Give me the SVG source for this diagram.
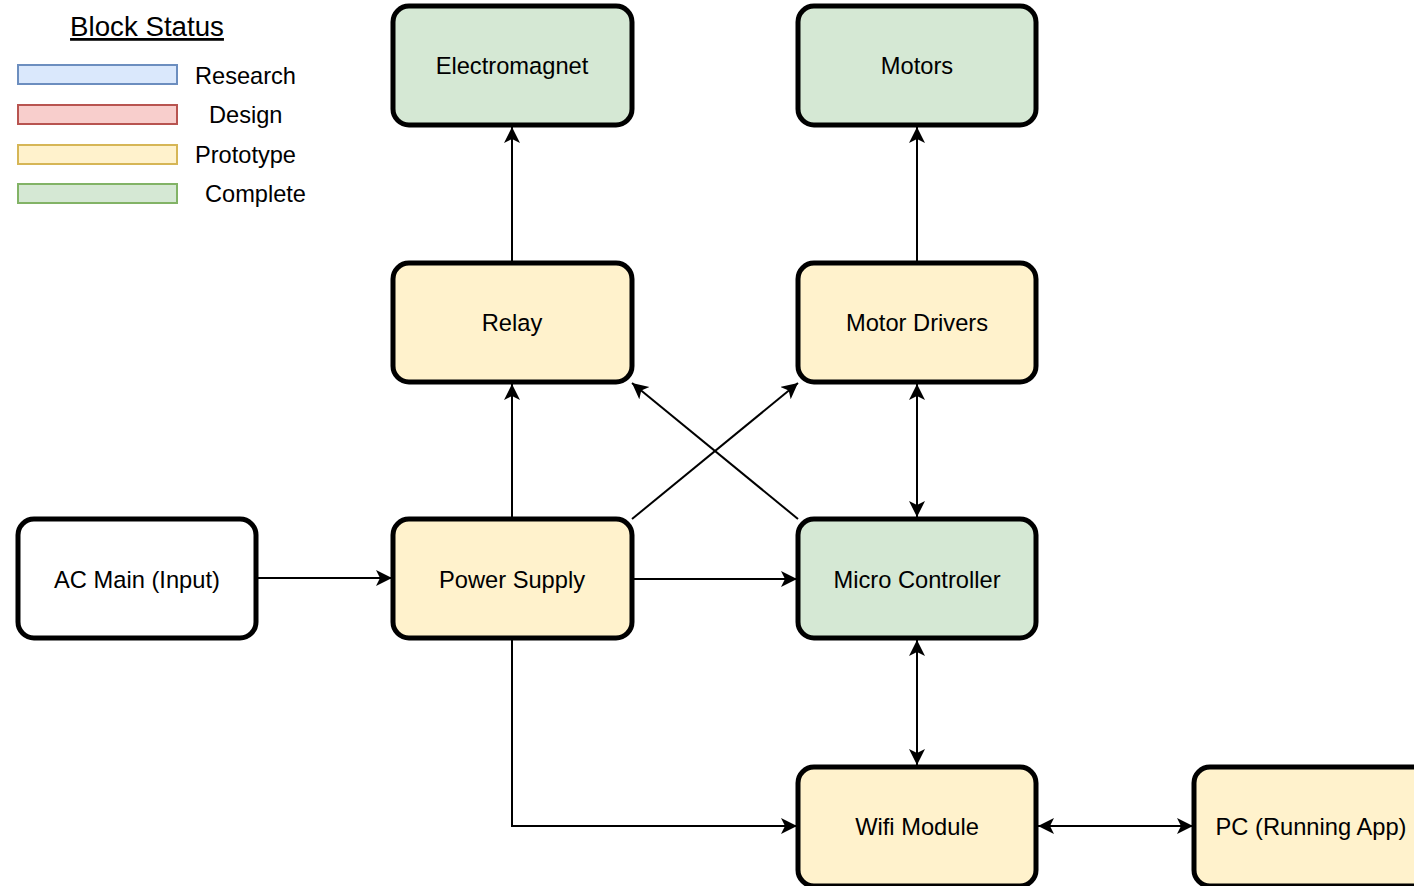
<svg xmlns="http://www.w3.org/2000/svg" width="1414" height="886" viewBox="0 0 1414 886">
<style>
.box{stroke:#000;stroke-width:5}
.y{fill:#fff2cc}
.g{fill:#d5e8d4}
.w{fill:#fff}
.t{font-family:"Liberation Sans",Arial,sans-serif;font-size:23.7px;fill:#000;text-anchor:middle}
.lg{font-family:"Liberation Sans",Arial,sans-serif;font-size:23.6px;fill:#000}
.c{fill:none;stroke:#000;stroke-width:2}
</style>
<defs>
<marker id="ah" markerUnits="strokeWidth" markerWidth="8.5" markerHeight="8.5" refX="16" refY="8" orient="auto-start-reverse" viewBox="0 0 17 17">
<path d="M0,0 L16,8 L0,16 L4,8 Z" fill="#000"/>
</marker>
</defs>
<rect width="1414" height="886" fill="#fff"/>
<g id="legend">
<text x="147" y="36" font-family="Liberation Sans,Arial,sans-serif" font-size="27.7" text-anchor="middle" text-decoration="underline">Block Status</text>
<rect x="18" y="65" width="159" height="19" fill="#dae8fc" stroke="#6c8ebf" stroke-width="2"/>
<rect x="18" y="105" width="159" height="19" fill="#f8cecc" stroke="#b85450" stroke-width="2"/>
<rect x="18" y="145" width="159" height="19" fill="#fff2cc" stroke="#d6b656" stroke-width="2"/>
<rect x="18" y="184" width="159" height="19" fill="#d5e8d4" stroke="#82b366" stroke-width="2"/>
<text class="lg" x="195" y="84">Research</text>
<text class="lg" x="209" y="123">Design</text>
<text class="lg" x="195" y="163">Prototype</text>
<text class="lg" x="205" y="202">Complete</text>
</g>
<g id="connectors">
<line class="c" x1="512" y1="262" x2="512" y2="127" marker-end="url(#ah)"/>
<line class="c" x1="917" y1="262" x2="917" y2="127" marker-end="url(#ah)"/>
<line class="c" x1="512" y1="519" x2="512" y2="384" marker-end="url(#ah)"/>
<line class="c" x1="632" y1="519" x2="798" y2="383" marker-end="url(#ah)"/>
<line class="c" x1="798" y1="519" x2="632" y2="383" marker-end="url(#ah)"/>
<line class="c" x1="917" y1="384" x2="917" y2="517" marker-start="url(#ah)" marker-end="url(#ah)"/>
<line class="c" x1="256" y1="578" x2="392" y2="578" marker-end="url(#ah)"/>
<line class="c" x1="634" y1="579" x2="797" y2="579" marker-end="url(#ah)"/>
<line class="c" x1="917" y1="640" x2="917" y2="765" marker-start="url(#ah)" marker-end="url(#ah)"/>
<polyline class="c" points="512,640 512,826 797,826" marker-end="url(#ah)"/>
<line class="c" x1="1038" y1="826" x2="1193" y2="826" marker-start="url(#ah)" marker-end="url(#ah)"/>
</g>
<g id="electromagnet"><rect class="box g" x="393" y="6" width="239" height="119" rx="16"/><text class="t" x="512" y="74">Electromagnet</text></g>
<g id="motors"><rect class="box g" x="798" y="6" width="238" height="119" rx="16"/><text class="t" x="917" y="74">Motors</text></g>
<g id="relay"><rect class="box y" x="393" y="263" width="239" height="119" rx="16"/><text class="t" x="512" y="331">Relay</text></g>
<g id="motor-drivers"><rect class="box y" x="798" y="263" width="238" height="119" rx="16"/><text class="t" x="917" y="331">Motor Drivers</text></g>
<g id="ac-main"><rect class="box w" x="18" y="519" width="238" height="119" rx="16"/><text class="t" x="137" y="588">AC Main (Input)</text></g>
<g id="power-supply"><rect class="box y" x="393" y="519" width="239" height="119" rx="16"/><text class="t" x="512" y="588">Power Supply</text></g>
<g id="micro-controller"><rect class="box g" x="798" y="519" width="238" height="119" rx="16"/><text class="t" x="917" y="588">Micro Controller</text></g>
<g id="wifi-module"><rect class="box y" x="798" y="767" width="238" height="119" rx="16"/><text class="t" x="917" y="835">Wifi Module</text></g>
<g id="pc"><rect class="box y" x="1194" y="767" width="238" height="119" rx="16"/><text class="t" x="1311" y="835">PC (Running App)</text></g>
</svg>
